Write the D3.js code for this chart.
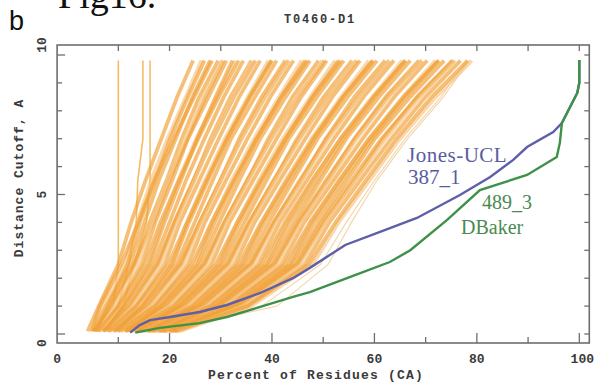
<!DOCTYPE html>
<html><head><meta charset="utf-8">
<script src="https://cdn.jsdelivr.net/npm/d3@7/dist/d3.min.js"></script>
<style>html,body{margin:0;padding:0;background:#fff;}svg{display:block;}</style>
</head><body>
<svg id="chart" width="596" height="385"></svg>
<script>
// ---------- data ----------
const chartTitle = "T0460-D1";
const xTitle = "Percent of Residues (CA)";
const yTitle = "Distance Cutoff, A";
const xTickValues = [10,20,30,40,50,60,70,80,90,100];
const xTickLabels = [[0,"0"],[20,"20"],[40,"40"],[60,"60"],[80,"80"],[100,"100"]];
const yTickValues = [0,1,2,3,4,5,6,7,8,9,10];
const yTickLabels = [[0,"0"],[5,"5"],[10,"10"]];

// distance-cutoff levels at which the orange model curves are sampled
const cutoffLevels = [0.1, 1, 2.5, 4, 5.5, 7, 8.5, 9.8];
// percent of residues for each orange model curve at the cutoff levels
const modelCurves = [
  [4.0, 6.2, 10.0, 12.5, 15.3, 18.4, 21.5, 24.6],
  [4.5, 6.9, 11.3, 13.7, 16.4, 19.6, 23.2, 26.2],
  [5.1, 7.6, 12.3, 15.1, 17.9, 21.2, 24.5, 27.9],
  [5.6, 8.7, 13.2, 16.1, 19.4, 22.4, 25.8, 29.5],
  [6.2, 9.8, 14.6, 17.2, 20.5, 23.6, 27.6, 31.1],
  [6.7, 10.5, 15.9, 18.6, 21.7, 25.2, 29.3, 32.8],
  [7.2, 11.2, 16.8, 20.0, 23.2, 26.8, 30.6, 34.4],
  [7.8, 12.3, 17.8, 21.0, 24.7, 28.0, 31.9, 36.0],
  [8.3, 13.4, 19.1, 22.0, 25.8, 29.6, 33.6, 37.7],
  [8.9, 14.1, 20.5, 23.4, 26.9, 30.8, 35.3, 39.3],
  [9.4, 14.8, 21.4, 24.9, 28.4, 32.0, 36.7, 40.9],
  [9.9, 15.9, 22.3, 25.9, 29.9, 33.6, 38.0, 42.6],
  [10.5, 17.0, 23.7, 26.9, 31.0, 35.2, 39.7, 44.2],
  [11.0, 17.7, 25.0, 28.3, 32.1, 36.5, 41.4, 45.8],
  [11.6, 18.4, 26.0, 29.7, 33.6, 37.7, 42.7, 47.4],
  [12.1, 19.5, 26.9, 30.7, 35.2, 39.3, 44.0, 49.1],
  [12.6, 20.6, 28.2, 31.7, 36.3, 40.9, 45.7, 50.7],
  [13.2, 21.3, 29.6, 33.2, 37.4, 42.1, 47.5, 52.3],
  [13.7, 22.0, 30.5, 34.6, 38.9, 43.3, 48.8, 54.0],
  [14.3, 23.1, 31.5, 35.6, 40.4, 44.9, 50.1, 55.6],
  [14.8, 24.2, 32.8, 36.6, 41.5, 46.5, 51.8, 57.2],
  [15.3, 24.9, 34.1, 38.0, 42.6, 47.7, 53.5, 58.9],
  [15.9, 25.6, 35.1, 39.4, 44.1, 48.9, 54.8, 60.5],
  [16.4, 26.7, 36.0, 40.4, 45.7, 50.5, 56.1, 62.1],
  [17.0, 27.8, 37.4, 41.5, 46.8, 52.1, 57.9, 63.8],
  [17.5, 28.5, 38.7, 42.9, 47.9, 53.3, 59.6, 65.4],
  [18.0, 29.2, 39.6, 44.3, 49.4, 54.5, 60.9, 67.0],
  [18.6, 30.3, 40.6, 45.3, 50.9, 56.1, 62.2, 68.7],
  [19.1, 31.4, 41.9, 46.3, 52.0, 57.7, 63.9, 70.3],
  [19.7, 32.1, 43.3, 47.7, 53.1, 58.9, 65.6, 71.9],
  [20.2, 32.8, 44.2, 49.1, 54.6, 60.1, 67.0, 73.6],
  [20.7, 33.9, 45.1, 50.2, 56.1, 61.7, 68.3, 75.2],
  [21.3, 35.0, 46.5, 51.2, 57.2, 63.3, 70.0, 76.8],
  [22.0, 36.0, 48.0, 53.0, 59.0, 65.0, 72.0, 79.0],
  [4.8, 6.4, 10.6, 13.9, 17.0, 20.8, 24.8, 28.3],
  [5.5, 8.0, 11.8, 14.2, 17.2, 20.1, 23.6, 26.8],
  [5.3, 8.4, 13.0, 16.8, 19.9, 23.5, 27.0, 30.5],
  [6.4, 9.2, 13.9, 16.6, 19.6, 22.9, 26.6, 30.2],
  [6.0, 10.1, 15.2, 18.2, 21.8, 25.6, 29.6, 33.5],
  [7.3, 11.0, 16.1, 19.0, 22.2, 25.4, 29.0, 32.3],
  [7.0, 11.9, 17.5, 20.9, 24.6, 28.5, 32.6, 36.8],
  [8.5, 12.8, 18.4, 21.5, 24.9, 28.3, 32.2, 35.9],
  [8.0, 13.5, 19.8, 23.4, 27.2, 31.2, 35.6, 39.9],
  [9.3, 14.6, 20.6, 23.8, 27.5, 31.3, 35.8, 40.0],
  [9.0, 15.4, 22.0, 25.9, 29.9, 34.0, 38.6, 43.2],
  [10.4, 16.3, 23.0, 26.3, 30.1, 34.1, 38.8, 43.3],
  [10.0, 17.2, 24.4, 28.2, 32.5, 37.0, 41.9, 46.9],
  [11.5, 18.2, 25.4, 28.8, 32.8, 37.0, 41.8, 46.5],
  [11.2, 19.0, 26.7, 30.7, 35.1, 39.8, 45.0, 50.2],
  [12.7, 20.0, 27.6, 31.2, 35.5, 39.9, 44.9, 49.8],
  [12.2, 20.9, 29.0, 33.2, 37.8, 42.6, 48.0, 53.4],
  [13.8, 21.8, 29.9, 33.7, 38.1, 42.7, 47.9, 53.0],
  [13.3, 22.6, 31.2, 35.5, 40.3, 45.3, 50.9, 56.6],
  [14.9, 23.6, 32.2, 36.1, 40.7, 45.5, 50.9, 56.3],
  [14.4, 24.5, 33.5, 37.9, 42.9, 48.0, 53.9, 59.8],
  [16.0, 25.4, 34.4, 38.5, 43.4, 48.3, 53.9, 59.6],
  [15.6, 26.2, 35.8, 40.3, 45.4, 50.7, 56.9, 62.9],
  [17.1, 27.2, 36.7, 40.9, 46.0, 51.1, 57.0, 62.8],
  [16.7, 28.0, 38.0, 42.5, 47.8, 53.4, 59.8, 66.1],
  [18.2, 29.0, 39.0, 43.4, 48.7, 53.9, 60.1, 66.0],
  [17.7, 29.8, 40.3, 45.0, 50.5, 56.2, 62.6, 69.3],
  [19.3, 30.8, 41.3, 45.8, 51.2, 56.6, 62.9, 69.2],
  [18.8, 31.6, 42.6, 47.4, 53.1, 59.0, 65.7, 72.5],
  [20.4, 32.6, 43.6, 48.2, 53.8, 59.5, 66.1, 72.6],
  [19.9, 33.4, 44.8, 49.7, 55.5, 61.4, 68.5, 75.5],
  [21.5, 34.4, 45.9, 50.6, 56.4, 62.2, 69.0, 75.8],
  [21.0, 35.3, 47.2, 52.4, 58.3, 64.3, 71.2, 78.2]
];
// model curves that plateau early (near-vertical lines on the left)
const plateauCurves = [
  [5.0, 9.0, 10.0, 10.0, 10.0, 10.0, 10.0, 10.0],
  [6.0, 10.0, 12.0, 13.5, 13.8, 14.8, 14.8, 14.8],
  [7.0, 11.0, 13.0, 15.5, 16.2, 16.2, 16.2, 16.2]
];
// a few faint outlying model curves
const faintCurves = [
  [20.0, 38.0, 49.5, 54.5, 60.0, 66.0, 73.0, 78.0],
  [18.5, 41.0, 51.0, 55.5, 60.5, 66.5, 73.5, 78.5]
];

// Jones-UCL 387_1
const jonesPct  = [12.3, 14.2, 16.2, 20.1, 25.9, 31.2, 37.7, 44.1, 47.4, 54.3, 61.1, 68.3, 76.7, 82.6, 87.1, 89.8, 94.9, 96.6, 99.6, 100, 100];
const jonesDist = [0.05, 0.32, 0.5, 0.61, 0.79, 1.04, 1.47, 2.0, 2.37, 3.19, 3.66, 4.16, 4.98, 5.63, 6.24, 6.70, 7.24, 7.56, 8.64, 9.0, 9.82];
// DBaker 489_3
const bakerPct  = [13.3, 18.1, 25.9, 31.2, 37.7, 44.1, 47.4, 56.2, 63.0, 67.0, 74.2, 80.6, 89.8, 95.6, 96.2, 96.6, 99.6, 100, 100];
const bakerDist = [0.05, 0.22, 0.39, 0.61, 0.97, 1.33, 1.5, 2.11, 2.58, 3.0, 4.09, 5.16, 5.7, 6.34, 6.85, 7.56, 8.64, 9.0, 9.82];

// ---------- drawing ----------
const svg = d3.select("#chart");
const x = d3.scaleLinear().domain([0, 100]).range([67.1, 579.3]);
const y = d3.scaleLinear().domain([0, 10]).range([334, 55]);
const fx0 = x(0) - 10, fx1 = x(100) + 10, fy0 = y(10) - 10, fy1 = y(0) + 9;

const monoFont = "'Liberation Mono', 'DejaVu Sans Mono', monospace";
const textCol = "#3a3a3a";

// cut-off figure caption on top
svg.append("text").attr("x", 58).attr("y", 8)
  .attr("font-family", "'Liberation Serif', 'DejaVu Serif', serif")
  .attr("font-size", 38).attr("fill", "#111").text("Fig16.");
svg.append("text").attr("x", 9).attr("y", 30)
  .attr("font-family", "'Liberation Sans', Arial, sans-serif")
  .attr("font-size", 27).attr("fill", "#111").text("b");

// title
svg.append("text").attr("x", 320).attr("y", 23).attr("text-anchor", "middle")
  .attr("font-family", monoFont).attr("font-weight", "bold").attr("font-size", 12)
  .attr("letter-spacing", 1.8).attr("fill", textCol).text(chartTitle);

const line = d3.line().x(d => x(d[0])).y(d => y(d[1]));

const gCurves = svg.append("g");
faintCurves.forEach(c => {
  gCurves.append("path").datum(c.map((v, i) => [v, cutoffLevels[i]]))
    .attr("d", line).attr("fill", "none").attr("stroke", "#f3cf9e")
    .attr("stroke-width", 1.1).attr("opacity", 0.9);
});
plateauCurves.forEach(c => {
  gCurves.append("path").datum(c.map((v, i) => [v, cutoffLevels[i]]))
    .attr("d", line).attr("fill", "none").attr("stroke", "#f2b24a")
    .attr("stroke-width", 1.6).attr("opacity", 0.85);
});
modelCurves.forEach((c, k) => {
  gCurves.append("path").datum(c.map((v, i) => [v, cutoffLevels[i]]))
    .attr("d", line).attr("fill", "none")
    .attr("stroke", k % 4 === 1 ? "#f6c586" : "#f0a038")
    .attr("stroke-width", 3.8).attr("stroke-linejoin", "round").attr("opacity", 0.68);
});

svg.append("path").datum(jonesPct.map((v, i) => [v, jonesDist[i]]))
  .attr("d", line).attr("fill", "none").attr("stroke", "#5d5fa8").attr("stroke-width", 2.4);
svg.append("path").datum(bakerPct.map((v, i) => [v, bakerDist[i]]))
  .attr("d", line).attr("fill", "none").attr("stroke", "#3e9148").attr("stroke-width", 2.4);

// frame
const axCol = "#6e6e6e";
svg.append("rect").attr("x", fx0).attr("y", fy0).attr("width", fx1 - fx0).attr("height", fy1 - fy0)
  .attr("fill", "none").attr("stroke", axCol).attr("stroke-width", 1.6);

// ticks (inward, on all four sides)
const gt = svg.append("g").attr("stroke", axCol).attr("stroke-width", 1.3);
xTickValues.forEach(v => {
  const major = v % 20 === 0;
  gt.append("line").attr("x1", x(v)).attr("x2", x(v)).attr("y1", fy1).attr("y2", fy1 - (major ? 10 : 6));
  gt.append("line").attr("x1", x(v)).attr("x2", x(v)).attr("y1", fy0).attr("y2", fy0 + 6);
});
yTickValues.forEach(v => {
  const major = v % 5 === 0;
  gt.append("line").attr("x1", fx0).attr("x2", fx0 + (major ? 8 : 5)).attr("y1", y(v)).attr("y2", y(v));
  gt.append("line").attr("x1", fx1).attr("x2", fx1 - 5).attr("y1", y(v)).attr("y2", y(v));
});

// tick labels
xTickLabels.forEach(([v, t]) => {
  const px = v === 0 ? fx0 : x(v) + (v === 100 ? 3 : 0);
  svg.append("text").attr("x", px).attr("y", 363).attr("text-anchor", "middle")
    .attr("font-family", monoFont).attr("font-weight", "bold").attr("font-size", 13)
    .attr("fill", textCol).text(t);
});
yTickLabels.forEach(([v, t]) => {
  const py = v === 0 ? fy1 : (v === 10 ? fy0 : y(v));
  svg.append("text").attr("transform", `translate(46,${py}) rotate(-90)`)
    .attr("text-anchor", "middle")
    .attr("font-family", monoFont).attr("font-weight", "bold").attr("font-size", 13)
    .attr("fill", textCol).text(t);
});

// axis titles
svg.append("text").attr("x", 316).attr("y", 379).attr("text-anchor", "middle")
  .attr("font-family", monoFont).attr("font-weight", "bold").attr("font-size", 13)
  .attr("letter-spacing", 1.2).attr("fill", textCol).text(xTitle);
svg.append("text").attr("transform", "translate(23,178) rotate(-90)").attr("text-anchor", "middle")
  .attr("font-family", monoFont).attr("font-weight", "bold").attr("font-size", 13)
  .attr("letter-spacing", 1).attr("fill", textCol).text(yTitle);

// series labels
const serif = "'Liberation Serif', 'DejaVu Serif', serif";
svg.append("text").attr("x", 407).attr("y", 162).attr("font-family", serif).attr("font-size", 21)
  .attr("letter-spacing", 0.5).attr("fill", "#5a5c9e").text("Jones-UCL");
svg.append("text").attr("x", 408).attr("y", 184).attr("font-family", serif).attr("font-size", 21)
  .attr("fill", "#5a5c9e").text("387_1");
svg.append("text").attr("x", 482).attr("y", 209).attr("font-family", serif).attr("font-size", 20)
  .attr("fill", "#4a8a52").text("489_3");
svg.append("text").attr("x", 461).attr("y", 234).attr("font-family", serif).attr("font-size", 20)
  .attr("fill", "#4a8a52").text("DBaker");
</script>
</body></html>
